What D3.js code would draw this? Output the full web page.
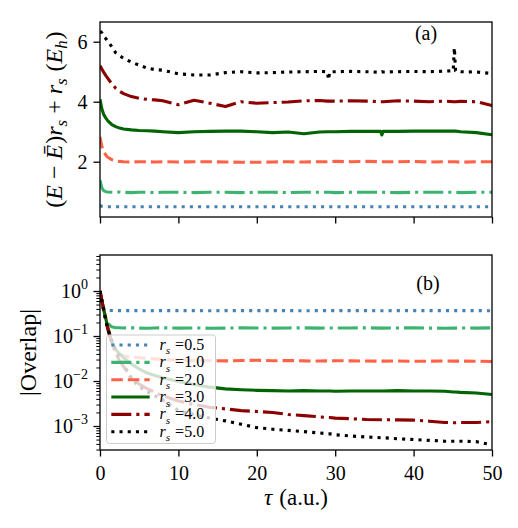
<!DOCTYPE html>
<html><head><meta charset="utf-8">
<script src="https://cdn.jsdelivr.net/npm/d3@7"></script>
<style>body{margin:0;background:#fff} svg{display:block} text{font-family:'Liberation Serif','Times New Roman',serif;fill:#000}</style>
</head><body>
<script>
// ---------------- data ----------------
const tau = [0,0.25,0.5,0.75,1,1.5,2,2.5,3,4,
             5,6,7,8,10,12,14,16,18,20,
             22,24,26,28,29,29.15,29.3,30,32,34,
             35.8,35.95,36.1,38,40,42,44,45.05,45.2,45.35,
             46,48,50];
const rsLabels = ["0.5","1.0","2.0","3.0","4.0","5.0"];

// panel (a): (E - Ebar) r_s + r_s
const energy05 = [0.55,0.51,0.50,0.50,0.50,0.50,0.50,0.50,0.50,0.50,
                  0.50,0.50,0.50,0.50,0.50,0.50,0.50,0.50,0.50,0.50,
                  0.50,0.50,0.50,0.50,0.50,0.50,0.50,0.50,0.50,0.50,
                  0.50,0.50,0.50,0.50,0.50,0.50,0.50,0.50,0.50,0.50,
                  0.50,0.50,0.50];
const energy10 = [1.38,1.12,1.03,1.00,0.99,0.98,0.98,0.99,0.98,0.97,
                  0.98,0.98,0.97,0.98,0.98,0.97,0.98,0.98,0.97,0.98,
                  0.98,0.97,0.98,0.98,0.98,0.98,0.98,0.97,0.98,0.98,
                  0.98,0.98,0.98,0.97,0.98,0.98,0.98,0.98,0.98,0.98,
                  0.97,0.98,0.98];
const energy20 = [2.82,2.50,2.32,2.22,2.15,2.07,2.03,2.01,2.00,1.99,
                  2.00,2.00,1.99,2.00,1.99,2.00,2.00,1.99,1.98,1.98,
                  1.99,2.00,1.99,2.00,2.00,2.00,2.00,2.01,2.00,2.01,
                  2.00,2.00,2.00,2.00,2.01,1.99,2.00,2.00,2.00,2.00,
                  1.98,2.00,2.00];
const energy30 = [4.08,3.75,3.56,3.45,3.36,3.24,3.17,3.12,3.09,3.06,
                  3.04,3.03,3.02,3.00,2.97,3.00,3.01,3.02,3.02,3.00,
                  2.97,2.99,2.93,2.99,3.00,3.00,3.00,3.00,3.01,3.01,
                  3.01,2.89,3.01,3.01,3.02,3.02,3.02,3.02,3.02,3.02,
                  3.00,2.97,2.90];
const energy40 = [5.20,5.08,4.97,4.87,4.78,4.60,4.45,4.35,4.27,4.17,
                  4.11,4.08,4.06,4.03,3.90,4.05,3.95,3.84,4.00,3.95,
                  3.97,3.99,4.03,4.04,4.02,4.02,4.02,4.02,4.03,4.02,
                  4.00,4.00,4.00,4.03,4.02,4.00,4.02,4.00,4.00,4.00,
                  4.01,4.00,3.87];
const energy50 = [6.35,6.29,6.17,6.10,6.02,5.83,5.63,5.53,5.45,5.32,
                  5.22,5.12,5.07,5.05,4.93,4.89,4.89,4.97,5.00,4.96,
                  4.97,4.99,5.00,5.01,5.00,4.73,5.00,5.00,5.01,5.00,
                  4.98,5.00,4.99,5.00,5.01,5.00,5.02,5.03,5.80,5.03,
                  5.00,4.99,4.94];

// panel (b): |Overlap|
const overlap05 = [1.0,0.55,0.40,0.375,0.37,0.368,0.367,0.366,0.366,0.366,
                   0.366,0.365,0.366,0.367,0.366,0.366,0.365,0.366,0.366,0.367,
                   0.366,0.366,0.365,0.366,0.366,0.366,0.366,0.367,0.366,0.366,
                   0.365,0.365,0.365,0.366,0.366,0.367,0.366,0.366,0.366,0.366,
                   0.366,0.366,0.365];
const overlap10 = [1.0,0.60,0.36,0.24,0.19,0.16,0.153,0.152,0.151,0.152,
                   0.150,0.149,0.151,0.152,0.150,0.151,0.149,0.150,0.152,0.151,
                   0.150,0.151,0.152,0.150,0.151,0.151,0.151,0.150,0.151,0.152,
                   0.150,0.150,0.150,0.151,0.152,0.150,0.149,0.150,0.150,0.150,
                   0.151,0.150,0.152];
const overlap20 = [1.0,0.62,0.38,0.24,0.16,0.075,0.045,0.039,0.036,0.034,
                   0.033,0.032,0.031,0.030,0.029,0.0285,0.0282,0.0280,0.0285,0.0290,
                   0.0282,0.0285,0.0280,0.0278,0.0280,0.0280,0.0280,0.0282,0.0280,0.0278,
                   0.0276,0.0276,0.0276,0.0278,0.0275,0.0276,0.0278,0.0276,0.0276,0.0276,
                   0.0277,0.0275,0.0272];
const overlap30 = [1.0,0.60,0.37,0.24,0.15,0.075,0.050,0.040,0.033,0.024,
                   0.0185,0.015,0.0132,0.0118,0.0098,0.0084,0.0073,0.0067,0.0064,0.0062,
                   0.0061,0.0060,0.0061,0.0060,0.0060,0.0060,0.0060,0.0059,0.0060,0.0060,
                   0.0060,0.0060,0.0060,0.0061,0.0060,0.0060,0.0059,0.0057,0.0057,0.0057,
                   0.0056,0.0054,0.0050];
const overlap40 = [1.0,0.60,0.36,0.23,0.14,0.070,0.042,0.028,0.021,0.012,
                   0.0085,0.0068,0.0056,0.0047,0.0036,0.0030,0.0026,0.0024,0.0022,0.0021,
                   0.0020,0.0018,0.0017,0.0016,0.00155,0.00155,0.00155,0.0015,0.00145,0.0014,
                   0.00138,0.00138,0.00138,0.00137,0.00135,0.00128,0.0012,0.00118,0.00118,0.00118,
                   0.0012,0.0012,0.00125];
const overlap50 = [1.0,0.58,0.34,0.21,0.14,0.080,0.050,0.034,0.024,0.011,
                   0.0075,0.0058,0.0047,0.0038,0.0022,0.0018,0.0015,0.0013,0.0011,0.00092,
                   0.00085,0.0008,0.00075,0.0007,0.00067,0.00067,0.00067,0.00064,0.0006,0.00057,
                   0.00055,0.00055,0.00055,0.00052,0.0005,0.00048,0.00046,0.00046,0.00046,0.00046,
                   0.00046,0.00045,0.00038];

const xTicks = [0,10,20,30,40,50];
const yTicksTop = [2,4,6];
const yTicksBotExp = [0,-1,-2,-3];

const energySeries = [energy05,energy10,energy20,energy30,energy40,energy50];
const overlapSeries = [overlap05,overlap10,overlap20,overlap30,overlap40,overlap50];

// ---------------- styles ----------------
const colors = ["#4682b4","#3cb371","#ff6347","#006400","#8b0000","#000000"];
const LW = 3.1;
const dashes = ["3.1,5.1","20,5,3.1,5","11.5,5",null,"20,5,3.1,5","3.1,5.1"];
const FS = 20;

const svg = d3.select("body").append("svg").attr("width",518).attr("height",528);

const L=100, R=492;
const x = d3.scaleLinear().domain([0,50]).range([L,R]);
const topP = {t:22,b:217};
const botP = {t:255,b:450};
const yTop = d3.scaleLinear().domain([0.157,6.657]).range([topP.b,topP.t]);
const yBot = d3.scaleLog().domain([Math.pow(10,-3.533),Math.pow(10,0.8)]).range([botP.b,botP.t]);

const defs = svg.append("defs");
defs.append("clipPath").attr("id","clipTop").append("rect").attr("x",L).attr("y",topP.t).attr("width",R-L).attr("height",topP.b-topP.t);
defs.append("clipPath").attr("id","clipBot").append("rect").attr("x",L).attr("y",botP.t).attr("width",R-L).attr("height",botP.b-botP.t);

function drawLines(series, yScale, clip){
  const g = svg.append("g").attr("clip-path",`url(#${clip})`);
  series.forEach((vals,k)=>{
    const line = d3.line().x((d,i)=>x(tau[i])).y(d=>yScale(d));
    g.append("path").attr("d",line(vals)).attr("fill","none")
      .attr("stroke",colors[k]).attr("stroke-width",LW)
      .attr("stroke-dasharray",dashes[k]).attr("stroke-linejoin","round");
  });
}
drawLines(energySeries,yTop,"clipTop");
drawLines(overlapSeries,yBot,"clipBot");

function styleAxis(g){
  g.select(".domain").remove();
  g.selectAll(".tick line").attr("stroke","#000").attr("stroke-width",1.3);
  g.selectAll(".tick text").attr("font-size",FS).attr("font-family","'Liberation Serif',serif").attr("fill","#000");
}

// top panel axes
svg.append("g").attr("transform",`translate(0,${topP.b})`)
  .call(d3.axisBottom(x).tickValues(xTicks).tickSize(6.5).tickFormat("")).call(styleAxis);
svg.append("g").attr("transform",`translate(${L},0)`)
  .call(d3.axisLeft(yTop).tickValues(yTicksTop).tickSize(6.5).tickPadding(6).tickFormat(d3.format("d"))).call(styleAxis);

// bottom panel axes
svg.append("g").attr("transform",`translate(0,${botP.b})`)
  .call(d3.axisBottom(x).tickValues(xTicks).tickSize(6.5).tickPadding(9).tickFormat(d3.format("d"))).call(styleAxis);
const majors = yTicksBotExp.map(e=>Math.pow(10,e));
const minors = [];
[-4,-3,-2,-1,0].forEach(e=>{for(let m=2;m<=9;m++){const v=m*Math.pow(10,e); const [lo,hi]=yBot.domain(); if(v>=lo&&v<=hi) minors.push(v);}});
svg.append("g").attr("transform",`translate(${L},0)`)
  .call(d3.axisLeft(yBot).tickValues(majors).tickSize(6.5).tickFormat("")).call(styleAxis);
svg.append("g").attr("transform",`translate(${L},0)`)
  .call(d3.axisLeft(yBot).tickValues(minors).tickSize(3.7).tickFormat("")).call(styleAxis)
  .selectAll(".tick line").attr("stroke-width",1.0);

yTicksBotExp.forEach(e=>{
  const yy = yBot(Math.pow(10,e));
  const t = svg.append("text").attr("x",88).attr("y",yy+7).attr("text-anchor","end").attr("font-size",FS);
  t.append("tspan").text("10");
  t.append("tspan").attr("dy",-9).attr("font-size",14).text(e===0?"0":"\u2212"+(-e));
});

// spines
[topP,botP].forEach(p=>{
  svg.append("rect").attr("x",L).attr("y",p.t).attr("width",R-L).attr("height",p.b-p.t)
    .attr("fill","none").attr("stroke","#000").attr("stroke-width",1.3);
});

// math text helper: parts = [text, style, extra dx]
function mathText(t, parts, fs){
  let off = 0;
  parts.forEach(([s,st,dx])=>{
    const sp = t.append("tspan").text(s);
    let target = 0, size = fs, italic = false;
    if(st==="i") italic = true;
    if(st==="sub"){ italic = true; target = 0.28*fs; size = 0.7*fs; }
    if(target!==off){ sp.attr("dy", target-off); off = target; }
    if(dx) sp.attr("dx",dx);
    sp.attr("font-size",size);
    if(italic) sp.attr("font-style","italic");
  });
}

// y label top
{
  const g = svg.append("g").attr("transform",`translate(54,${(topP.t+topP.b)/2}) rotate(-90)`);
  const t = g.append("text").attr("text-anchor","middle").attr("dominant-baseline","central").attr("font-size",24);
  mathText(t,[["(",""],["E","i"],["\u2212","",6],["\u0112","i",6],[")","",1],["r","i"],["s","sub"],["+","",6],["r","i",6],["s","sub"],["(","",7],["E","i"],["h","sub"],[")","",1]],24);
}
// y label bottom
svg.append("g").attr("transform",`translate(28,${(botP.t+botP.b)/2}) rotate(-90)`)
  .append("text").attr("text-anchor","middle").attr("dominant-baseline","central").attr("font-size",24).text("|Overlap|");
// x label
{
  const t = svg.append("text").attr("x",(L+R)/2).attr("y",505).attr("text-anchor","middle").attr("font-size",23);
  mathText(t,[["\u03c4","i"],["(a.u.)","",7]],23);
}
// panel tags
svg.append("text").attr("x",426).attr("y",40).attr("text-anchor","middle").attr("font-size",FS).text("(a)");
svg.append("text").attr("x",428).attr("y",290).attr("text-anchor","middle").attr("font-size",FS).text("(b)");

// legend
{
  const g = svg.append("g");
  g.append("rect").attr("x",106.5).attr("y",335).attr("width",109).attr("height",108.5).attr("rx",3)
    .attr("fill","#fff").attr("fill-opacity",0.8).attr("stroke","#cccccc").attr("stroke-width",1);
  rsLabels.forEach((lab,k)=>{
    const yy = 345 + k*17.35;
    g.append("line").attr("x1",111.3).attr("x2",149.7).attr("y1",yy).attr("y2",yy)
      .attr("stroke",colors[k]).attr("stroke-width",LW).attr("stroke-dasharray",dashes[k]);
    const t = g.append("text").attr("x",159.5).attr("y",yy+5).attr("font-size",16);
    mathText(t,[["r","i"],["s","sub"],["=","",5],[lab,""]],16);
  });
}
</script>
</body></html>
